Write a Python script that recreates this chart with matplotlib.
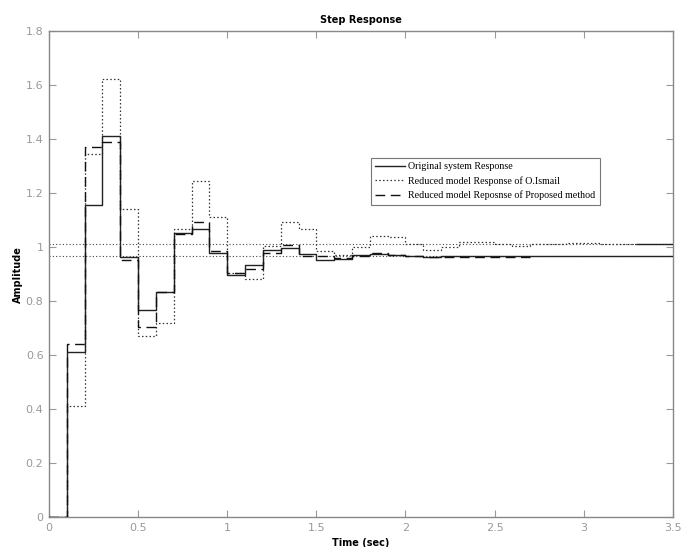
import numpy as np
import matplotlib
matplotlib.use('Agg')
import matplotlib.pyplot as plt

# sample time of the discrete responses
Ts = 0.1

# values read per sample interval, starting at t = 0
original = [0, 0.613, 1.156, 1.412, 0.964, 0.767, 0.835, 1.054, 1.067, 0.977,
            0.897, 0.935, 0.990, 0.997, 0.975, 0.953, 0.956, 0.971, 0.975, 0.972,
            0.966, 0.965, 0.966, 0.966, 0.966, 0.966, 0.966, 0.966, 0.966, 0.966,
            0.966, 0.966, 0.966, 0.966, 0.966]
ismail = [0, 0.412, 1.347, 1.622, 1.143, 0.672, 0.718, 1.067, 1.246, 1.110,
          0.905, 0.882, 1.003, 1.095, 1.067, 0.987, 0.971, 0.999, 1.040, 1.036,
          1.012, 0.990, 1.001, 1.021, 1.021, 1.012, 1.005, 1.010, 1.012, 1.016,
          1.016, 1.012, 1.012]
proposed = [0, 0.640, 1.373, 1.390, 0.953, 0.703, 0.833, 1.050, 1.095, 0.987,
            0.905, 0.919, 0.980, 1.009, 0.966, 0.968, 0.960, 0.968, 0.980, 0.972,
            0.966, 0.965, 0.965, 0.965, 0.965, 0.965, 0.965]

# steady-state levels and the short final segment at the right edge
steady_levels = [1.012, 0.968]
tail_t = [3.3, 3.5]
tail_y = [1.012, 1.012]

labels = ['Original system Response',
          'Reduced model Response of O.Ismail',
          'Reduced model Reposnse of Proposed method']


def stairs(values):
    t = np.arange(len(values) + 1) * Ts
    y = list(values) + [values[-1]]
    return t, y


fig = plt.figure(figsize=(6.95, 5.47), dpi=100)
ax = fig.add_axes([0.0705, 0.0548, 0.8975, 0.888])

for lvl in steady_levels:
    ax.axhline(lvl, color='#444444', linestyle=(0, (1, 2)), linewidth=0.8, zorder=1)

t, y = stairs(original)
ax.step(t, y, where='post', color='#222222', linewidth=1.0, label=labels[0], zorder=3)
t, y = stairs(ismail)
ax.step(t, y, where='post', color='#333333', linestyle=(0, (1.2, 1.8)), linewidth=0.9,
        label=labels[1], zorder=2)
t, y = stairs(proposed)
ax.step(t, y, where='post', color='#111111', linestyle=(0, (7, 4)), linewidth=1.0,
        label=labels[2], zorder=4)
ax.plot(tail_t, tail_y, color='#222222', linewidth=1.0, zorder=3)

ax.set_xlim(0, 3.5)
ax.set_ylim(0, 1.8)
ax.set_xticks(np.arange(0, 3.51, 0.5))
ax.set_xticklabels(['0', '0.5', '1', '1.5', '2', '2.5', '3', '3.5'])
ax.set_yticks(np.arange(0, 1.81, 0.2))
ax.set_yticklabels(['0', '0.2', '0.4', '0.6', '0.8', '1', '1.2', '1.4', '1.6', '1.8'])
ax.tick_params(direction='in', top=True, right=True, length=5, width=0.8,
               colors='#999999', labelsize=8, pad=4)
for s in ax.spines.values():
    s.set_color('#888888')
    s.set_linewidth(1.0)

ax.set_title('Step Response', fontsize=7, fontweight='bold', pad=6)
ax.set_xlabel('Time (sec)', fontsize=7, fontweight='bold', labelpad=4)
ax.set_ylabel('Amplitude', fontsize=7, fontweight='bold', labelpad=2)

leg = ax.legend(loc='upper left', bbox_to_anchor=(0.516, 0.740),
                prop={'family': 'Liberation Serif', 'size': 7.2},
                frameon=True, fancybox=False, handlelength=3.0, handletextpad=0.3,
                borderpad=0.45, labelspacing=0.5, borderaxespad=0)
leg.get_frame().set_edgecolor('#555555')
leg.get_frame().set_linewidth(0.8)

fig.savefig('out.png', dpi=100)
